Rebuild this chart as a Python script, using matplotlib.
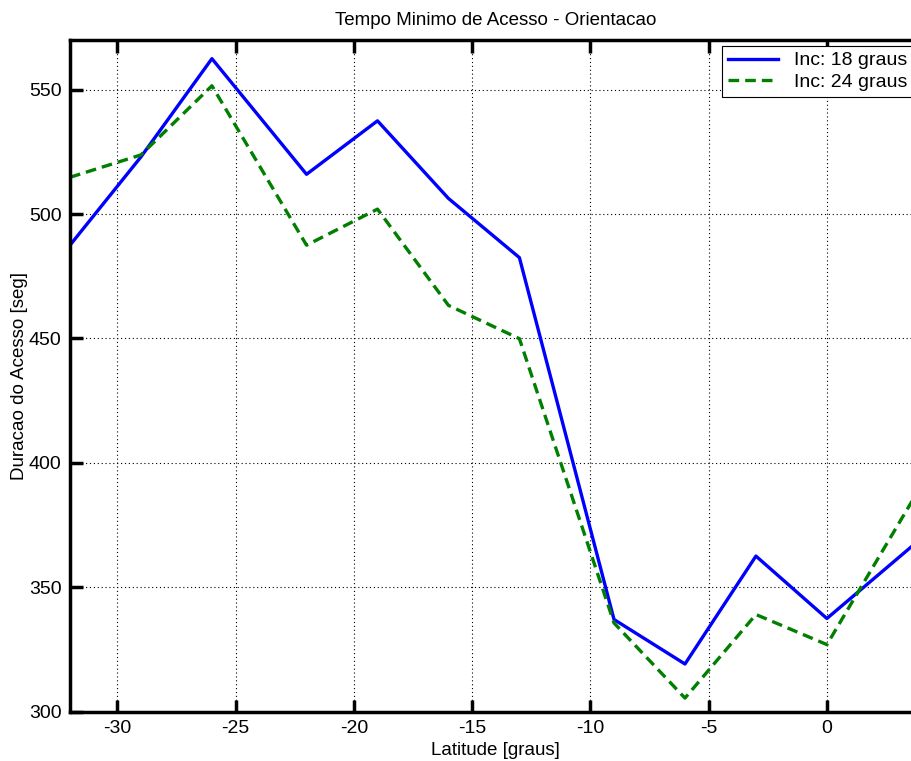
import numpy as np
import matplotlib.pyplot as plt

# Latitudes and minimum access durations
latitude = [-32, -29, -26, -22, -19, -16, -13, -9, -6, -3, 0, 4]
inc_18 = [487.5, 523, 562.5, 516, 537.5, 506.3, 482.5, 337, 319.1, 362.5, 337.4, 369.7]
inc_24 = [514.8, 523.8, 551.6, 487.5, 502, 463.3, 449.9, 335.6, 305.4, 339, 326.9, 391]
x_ticks = [-30, -25, -20, -15, -10, -5, 0]
y_ticks = [300, 350, 400, 450, 500, 550]

plt.rcParams['font.family'] = ['Liberation Sans', 'DejaVu Sans']
plt.rcParams['axes.unicode_minus'] = False

fig = plt.figure(figsize=(9.12, 7.61), dpi=100)
ax = fig.add_axes([70 / 912, 49.5 / 761, 851.5 / 912, 671.5 / 761])

ax.plot(latitude, inc_18, color='#0000ff', linewidth=2.4, linestyle='-', label='Inc: 18 graus')
ax.plot(latitude, inc_24, color='#007f00', linewidth=2.4, linestyle=(0, (3.2, 1.8)), label='Inc: 24 graus')

ax.set_xlim(-32, 4)
ax.set_ylim(300, 570)
ax.set_xticks(x_ticks)
ax.set_yticks(y_ticks)
ax.grid(True, color='black', linestyle=(0, (1, 2.5)), linewidth=0.8)

for sp in ax.spines.values():
    sp.set_linewidth(2.5)
ax.spines['right'].set_visible(False)
ax.tick_params(direction='in', length=9, width=2.5, labelsize=14, top=True, right=False, pad=6)

ax.set_title('Tempo Minimo de Acesso - Orientacao', fontsize=13.5, pad=11)
ax.set_xlabel('Latitude [graus]', fontsize=13.5, labelpad=4)
ax.set_ylabel('Duracao do Acesso [seg]', fontsize=13.5, labelpad=1)

leg = ax.legend(loc='upper right', bbox_to_anchor=(913 / 912, 1 - 46 / 761),
                bbox_transform=fig.transFigure, fontsize=14, frameon=True,
                fancybox=False, framealpha=1, edgecolor='black', handlelength=2.6,
                borderpad=0.3, labelspacing=0.2, handletextpad=0.8, borderaxespad=0)
leg.get_frame().set_linewidth(0.8)

plt.savefig('out.png', dpi=100)
